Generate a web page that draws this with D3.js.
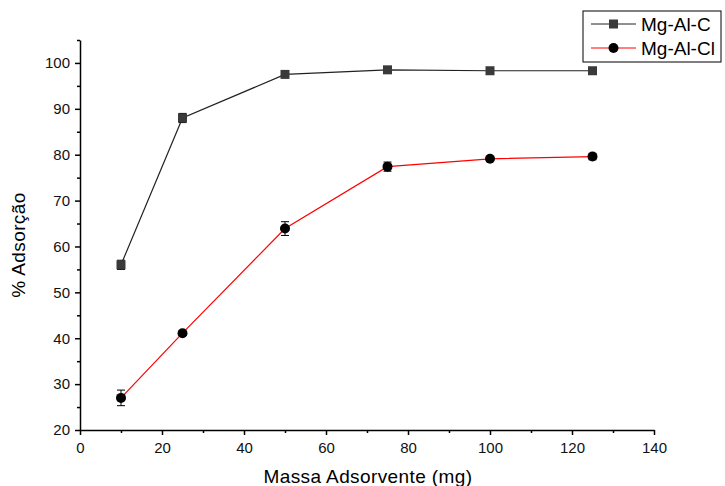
<!DOCTYPE html>
<html>
<head>
<meta charset="utf-8">
<script src="https://cdn.jsdelivr.net/npm/d3@7"></script>
<style>
  body { margin: 0; background: #fff; }
  text { font-family: "Liberation Sans", Arial, sans-serif; }
</style>
</head>
<body>
<div class="card"></div>
<script>
const w = 725;
const h = 486;

// data
const massa = [10, 25, 50, 75, 100, 125];
const mgAlC = [56.0, 88.0, 97.5, 98.5, 98.3, 98.3];
const mgAlCErr = [1.0, 1.0, 0.4, 0.3, 0.3, 0.3];
const mgAlCl = [27.0, 41.1, 63.9, 77.4, 79.1, 79.6];
const mgAlClErr = [1.7, 0.5, 1.5, 1.0, 0.4, 0.7];
const xTicks = [0, 20, 40, 60, 80, 100, 120, 140];
const yTicks = [20, 30, 40, 50, 60, 70, 80, 90, 100];

var svg = d3.select(".card")
			.append("svg")
			.attr("width", w)
			.attr("height", h);

var xScale = d3.scaleLinear().domain([0, 140]).range([80, 654]);
var yScale = d3.scaleLinear().domain([20, 105]).range([430, 40]);

// minor ticks first (shorter)
svg.append('g')
	.attr('transform', 'translate(0,430)')
	.call(d3.axisBottom(xScale).tickValues(d3.range(10, 140, 20)).tickSize(3).tickFormat(""))
	.call(g => g.select(".domain").remove());
svg.append('g')
	.attr('transform', 'translate(80,0)')
	.call(d3.axisLeft(yScale).tickValues(d3.range(25, 105, 10).concat([105])).tickSize(3).tickFormat(""))
	.call(g => g.select(".domain").remove());

var xAxis = d3.axisBottom(xScale).tickValues(xTicks).tickSize(5).tickSizeOuter(0).tickPadding(5);
var gx = svg.append('g')
	.attr('transform', 'translate(0,430)')
	.call(xAxis);

var yAxis = d3.axisLeft(yScale).tickValues(yTicks).tickSize(5).tickSizeOuter(0).tickPadding(5);
var gy = svg.append('g')
	.attr('transform', 'translate(80,0)')
	.call(yAxis);

svg.selectAll(".tick text").attr("font-size", 15).attr("fill", "#111")
	.style("font-family", "'Liberation Sans', Arial, sans-serif");
svg.selectAll(".domain, .tick line").attr("stroke", "#000").attr("stroke-width", 1.5);
gx.selectAll(".tick text").attr("dy", "0.85em");

// axis titles
svg.append("text")
	.attr("x", 368).attr("y", 483)
	.attr("text-anchor", "middle")
	.attr("font-size", 19)
	.attr("letter-spacing", 0.4)
	.text("Massa Adsorvente (mg)");
svg.append("text")
	.attr("transform", "translate(25,245) rotate(-90)")
	.attr("text-anchor", "middle")
	.attr("font-size", 19)
	.attr("letter-spacing", 0.4)
	.text("% Adsorção");

var line = d3.line().x((d, i) => xScale(massa[i])).y(d => yScale(d));

function drawSeries(vals, errs, color, shape) {
	svg.append("path")
		.datum(vals)
		.attr("fill", "none")
		.attr("stroke", color)
		.attr("stroke-width", 1.2)
		.attr("d", line);

	var g = svg.append("g");
	vals.forEach(function (v, i) {
		var x = xScale(massa[i]);
		var y1 = yScale(v - errs[i]), y2 = yScale(v + errs[i]);
		g.append("line").attr("x1", x).attr("x2", x).attr("y1", y1).attr("y2", y2).attr("stroke", "#000");
		g.append("line").attr("x1", x - 4).attr("x2", x + 4).attr("y1", y1).attr("y2", y1).attr("stroke", "#000");
		g.append("line").attr("x1", x - 4).attr("x2", x + 4).attr("y1", y2).attr("y2", y2).attr("stroke", "#000");
		if (shape == "square") {
			g.append("rect").attr("x", x - 4.5).attr("y", yScale(v) - 4.5)
				.attr("width", 9).attr("height", 9).attr("fill", "#3a3a3a");
		} else {
			g.append("circle").attr("cx", x).attr("cy", yScale(v)).attr("r", 5).attr("fill", "#000");
		}
	});
}

drawSeries(mgAlC, mgAlCErr, "#222", "square");
drawSeries(mgAlCl, mgAlClErr, "#ff0000", "circle");

// legend
var lg = svg.append("g");
lg.append("rect").attr("x", 583).attr("y", 11).attr("width", 138).attr("height", 51)
	.attr("fill", "#fff").attr("stroke", "#000").attr("stroke-width", 1);
var legendItems = [["Mg-Al-C", "#222", "square"], ["Mg-Al-Cl", "#ff0000", "circle"]];
legendItems.forEach(function (it, i) {
	var y = 24 + i * 24;
	lg.append("line").attr("x1", 591).attr("x2", 636).attr("y1", y).attr("y2", y).attr("stroke", it[1]);
	if (it[2] == "square") {
		lg.append("rect").attr("x", 609).attr("y", y - 4.5).attr("width", 9).attr("height", 9).attr("fill", "#3a3a3a");
	} else {
		lg.append("circle").attr("cx", 613.5).attr("cy", y).attr("r", 5).attr("fill", "#000");
	}
	lg.append("text").attr("x", 641).attr("y", y + 7).attr("font-size", 19).text(it[0]);
});
</script>
</body>
</html>
